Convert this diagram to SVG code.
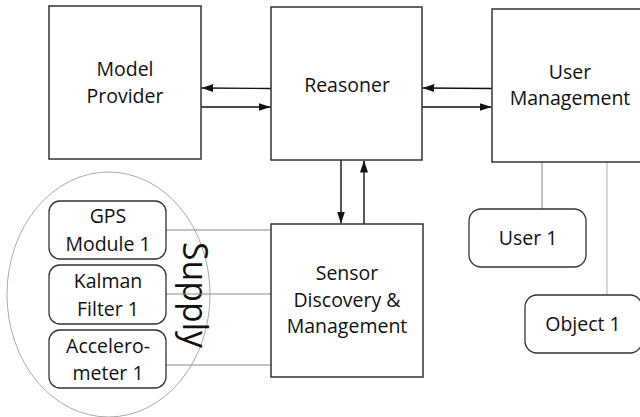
<svg xmlns="http://www.w3.org/2000/svg" width="640" height="417" viewBox="0 0 640 417">
  <style>
    .box { fill: #ffffff; stroke: #333333; stroke-width: 1.5; }
    .rbox { fill: #ffffff; stroke: #333333; stroke-width: 1.3; }
    .lbl { font-family: "Open Sans", "Liberation Sans", sans-serif; font-size: 19.5px; fill: #111111; text-anchor: middle; }
    .arrow { stroke: #111111; stroke-width: 1.4; fill: none; marker-end: url(#head); }
    .link { stroke: #8a8a8a; stroke-width: 1; fill: none; }
    .link-light { stroke: #bbbbbb; stroke-width: 1.2; fill: none; }
  </style>
  <defs>
    <marker id="head" viewBox="0 0 12 8" refX="12" refY="4" markerWidth="12" markerHeight="8" markerUnits="userSpaceOnUse" orient="auto">
      <path d="M0,0 L12,4 L0,8 Z" fill="#111111"/>
    </marker>
  </defs>

  <rect width="640" height="417" fill="#ffffff"/>

  <!-- Supply grouping -->
  <g id="supply">
    <ellipse cx="108.5" cy="294.5" rx="101.5" ry="122.5" fill="none" stroke="#aaaaaa" stroke-width="1"/>
    <text transform="translate(183,295) rotate(90)" x="0" y="0" font-family="'Open Sans', 'Liberation Sans', sans-serif" font-size="34" text-anchor="middle" fill="#111111" textLength="106" lengthAdjust="spacingAndGlyphs">Supply</text>
  </g>

  <!-- Connectors -->
  <g id="connectors">
    <line class="arrow" x1="271" y1="88.5" x2="201.5" y2="88"/>
    <line class="arrow" x1="201" y1="107" x2="270.5" y2="107"/>
    <line class="arrow" x1="492" y1="88.5" x2="422.5" y2="88"/>
    <line class="arrow" x1="422" y1="107" x2="491.5" y2="107"/>
    <line class="arrow" x1="341" y1="160" x2="341" y2="223.5"/>
    <line class="arrow" x1="364" y1="224" x2="364" y2="160.5"/>
    <line class="link" x1="166" y1="230" x2="271" y2="230"/>
    <line class="link" x1="166" y1="294" x2="271" y2="294"/>
    <line class="link" x1="166" y1="365" x2="271" y2="365"/>
    <line class="link" x1="542" y1="162" x2="542" y2="209"/>
    <line class="link-light" x1="607" y1="162" x2="607" y2="295"/>
  </g>

  <g id="model-provider">
    <rect class="box" x="49" y="6" width="152" height="153"/>
    <text class="lbl" x="125" y="76">Model</text>
    <text class="lbl" x="125" y="103">Provider</text>
  </g>

  <g id="reasoner">
    <rect class="box" x="271" y="7" width="151" height="153"/>
    <text class="lbl" x="347" y="92">Reasoner</text>
  </g>

  <g id="user-management">
    <rect class="box" x="492" y="9" width="154" height="153"/>
    <text class="lbl" x="570" y="79">User</text>
    <text class="lbl" x="570" y="105">Management</text>
  </g>

  <g id="sensor-discovery">
    <rect class="box" x="271" y="224" width="152" height="153"/>
    <text class="lbl" x="347" y="280">Sensor</text>
    <text class="lbl" x="347" y="307">Discovery &amp;</text>
    <text class="lbl" x="347" y="333">Management</text>
  </g>

  <g id="gps-module">
    <rect class="rbox" x="49" y="201" width="117" height="58" rx="11"/>
    <text class="lbl" x="108" y="223">GPS</text>
    <text class="lbl" x="108" y="251">Module 1</text>
  </g>

  <g id="kalman-filter">
    <rect class="rbox" x="49" y="265" width="117" height="59" rx="11"/>
    <text class="lbl" x="108" y="288">Kalman</text>
    <text class="lbl" x="108" y="316">Filter 1</text>
  </g>

  <g id="accelerometer">
    <rect class="rbox" x="49" y="330" width="117" height="58" rx="11"/>
    <text class="lbl" x="108" y="353">Accelero-</text>
    <text class="lbl" x="108" y="380">meter 1</text>
  </g>

  <g id="user-1">
    <rect class="rbox" x="469" y="209" width="117" height="58" rx="12"/>
    <text class="lbl" x="528" y="245">User 1</text>
  </g>

  <g id="object-1">
    <rect class="rbox" x="525" y="295" width="117" height="58" rx="12"/>
    <text class="lbl" x="583" y="331">Object 1</text>
  </g>
</svg>
